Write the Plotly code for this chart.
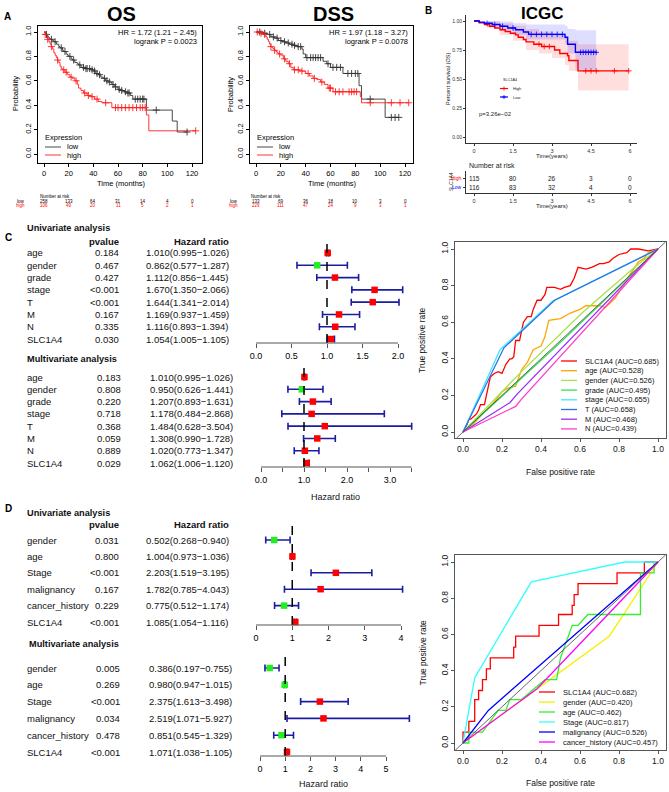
import numpy as np
import plotly.graph_objects as go

W, H = 669, 792
FONT = "Liberation Sans, Arial, Helvetica, sans-serif"

# ======================= DATA =======================
# ---- Panel A: OS (Kaplan-Meier, months) ----
os_low_t = [0, 1, 2, 3, 4, 5, 7, 8, 10, 12, 13, 15, 16, 18, 19, 20, 22, 23, 25, 27, 28, 30, 33, 38, 40, 42,
            44, 46, 48, 50, 52, 55, 57, 60, 62, 65, 67, 70, 72, 83, 104, 108]
os_low_s = [1.0, 0.99, 0.98, 0.96, 0.95, 0.94, 0.93, 0.92, 0.90, 0.88, 0.87, 0.85, 0.84, 0.82, 0.81, 0.80, 0.78,
            0.77, 0.75, 0.74, 0.73, 0.71, 0.70, 0.69, 0.68, 0.66, 0.65, 0.63, 0.62, 0.60, 0.59, 0.57, 0.55, 0.53,
            0.52, 0.51, 0.50, 0.48, 0.45, 0.36, 0.27, 0.18]
os_low_end = 116
os_low_cens = [2, 6, 9, 14, 17, 21, 24, 29, 32, 34, 35, 37, 39, 41, 43, 45, 49, 51, 53, 56, 58, 61, 63, 66, 68,
               69, 74, 76, 78, 80, 81, 91, 116]
os_high_t = [0, 1, 2, 3, 4, 5, 6, 7, 8, 9, 10, 11, 12, 13, 14, 15, 17, 19, 21, 23, 25, 27, 28, 30, 32, 35, 38,
             41, 44, 47, 55, 83, 85]
os_high_s = [1.0, 0.98, 0.96, 0.94, 0.92, 0.90, 0.88, 0.86, 0.83, 0.81, 0.79, 0.77, 0.75, 0.72, 0.70, 0.69, 0.67,
             0.65, 0.63, 0.62, 0.60, 0.57, 0.54, 0.52, 0.50, 0.48, 0.47, 0.45, 0.43, 0.42, 0.38, 0.32, 0.19]
os_high_end = 123
os_high_cens = [1, 3, 6, 11, 16, 18, 22, 26, 33, 36, 39, 43, 50, 58, 60, 63, 66, 69, 72, 75, 78, 80, 82, 123]
os_risk_times = [0, 20, 40, 60, 80, 100, 120]
os_risk_low = [258, 133, 64, 31, 14, 4, 0]
os_risk_high = [106, 49, 20, 11, 5, 2, 1]
os_hr_text = ["HR = 1.72 (1.21 \u2212 2.45)", "logrank P = 0.0023"]

# ---- Panel A: DSS ----
dss_low_t = [0, 6, 9, 12, 15, 18, 21, 24, 27, 30, 33, 37, 38, 40, 54, 57, 60, 70, 83, 85, 104]
dss_low_s = [1.0, 0.99, 0.98, 0.96, 0.95, 0.93, 0.92, 0.91, 0.90, 0.89, 0.88, 0.86, 0.82, 0.79, 0.76, 0.74, 0.71,
             0.66, 0.56, 0.45, 0.30]
dss_low_end = 115
dss_low_cens = [3, 7, 11, 14, 17, 20, 23, 26, 29, 31, 34, 36, 41, 44, 46, 48, 50, 52, 58, 62, 65, 68, 74, 77, 80,
                82, 92, 109, 112, 115]
dss_high_t = [0, 3, 6, 8, 9, 10, 11, 12, 13, 14, 15, 16, 17, 18, 20, 22, 24, 26, 28, 30, 35, 40, 43, 46, 49, 52,
              55, 58, 62, 84, 85]
dss_high_s = [1.0, 0.99, 0.98, 0.96, 0.94, 0.92, 0.90, 0.88, 0.87, 0.86, 0.85, 0.84, 0.83, 0.82, 0.81, 0.78, 0.76,
              0.74, 0.71, 0.69, 0.68, 0.66, 0.64, 0.62, 0.61, 0.59, 0.57, 0.54, 0.51, 0.47, 0.42]
dss_high_end = 123
dss_high_cens = [1, 4, 7, 12, 15, 19, 23, 27, 31, 34, 37, 42, 47, 53, 59, 60, 64, 67, 70, 75, 77, 79, 81, 92, 109,
                 116, 123]
dss_risk_low = [133, 69, 36, 18, 10, 3, 0]
dss_risk_high = [229, 111, 47, 24, 9, 3, 1]
dss_hr_text = ["HR = 1.97 (1.18 \u2212 3.27)", "logrank P = 0.0078"]

# ---- Panel B: ICGC (years) ----
icgc_low_t = [0, 0.2, 0.4, 0.7, 1.0, 1.3, 1.6, 1.9, 2.1, 3.5, 3.6, 3.9]
icgc_low_s = [1.0, 0.99, 0.98, 0.97, 0.955, 0.94, 0.925, 0.905, 0.885, 0.86, 0.80, 0.73]
icgc_low_end = 4.7
icgc_low_cens = [0.5, 0.8, 1.1, 1.5, 2.2, 2.4, 2.6, 2.8, 3.0, 3.2, 3.4, 4.1, 4.2, 4.3, 4.4, 4.5, 4.6, 4.7]
icgc_high_t = [0, 0.2, 0.4, 0.6, 0.8, 1.0, 1.2, 1.4, 1.6, 1.7, 1.9, 2.0, 2.3, 2.6, 3.1, 3.3, 3.6, 3.65, 4.0]
icgc_high_s = [1.0, 0.985, 0.97, 0.955, 0.94, 0.925, 0.91, 0.895, 0.88, 0.86, 0.84, 0.82, 0.80, 0.78, 0.75, 0.72,
               0.70, 0.66, 0.57]
icgc_high_end = 5.95
icgc_high_cens = [2.5, 2.7, 2.9, 4.3, 4.5, 4.7, 5.4, 5.95]
icgc_high_band_t = [0, 0.5, 1.0, 1.5, 2.0, 2.5, 3.0, 3.5, 3.65, 4.0, 5.95]
icgc_high_band_up = [1.0, 0.995, 0.98, 0.96, 0.93, 0.91, 0.88, 0.86, 0.83, 0.80, 0.80]
icgc_high_band_lo = [1.0, 0.94, 0.88, 0.83, 0.75, 0.72, 0.68, 0.62, 0.57, 0.40, 0.40]
icgc_low_band_t = [0, 0.5, 1.0, 1.5, 2.0, 3.5, 3.6, 3.9, 4.7]
icgc_low_band_up = [1.0, 1.0, 0.995, 0.98, 0.97, 0.96, 0.93, 0.92, 0.92]
icgc_low_band_lo = [1.0, 0.95, 0.92, 0.88, 0.84, 0.80, 0.72, 0.58, 0.58]
icgc_risk_times = [0, 1.5, 3, 4.5, 6]
icgc_risk_high = [115, 80, 26, 3, 0]
icgc_risk_low = [116, 83, 32, 4, 0]
icgc_p_text = "p=3.26e\u221202"

# ---- Panel C: forest (TCGA) ----
c_vars = ["age", "gender", "grade", "stage", "T", "M", "N", "SLC1A4"]
c_uni_p = ["0.184", "0.467", "0.427", "<0.001", "<0.001", "0.167", "0.335", "0.030"]
c_uni_hr = [1.010, 0.862, 1.112, 1.670, 1.644, 1.169, 1.116, 1.054]
c_uni_lo = [0.995, 0.577, 0.856, 1.350, 1.341, 0.937, 0.893, 1.005]
c_uni_hi = [1.026, 1.287, 1.445, 2.066, 2.014, 1.459, 1.394, 1.105]
c_multi_p = ["0.183", "0.808", "0.220", "0.718", "0.368", "0.059", "0.889", "0.029"]
c_multi_hr = [1.010, 0.950, 1.207, 1.178, 1.484, 1.308, 1.020, 1.062]
c_multi_lo = [0.995, 0.626, 0.893, 0.484, 0.628, 0.990, 0.773, 1.006]
c_multi_hi = [1.026, 1.441, 1.631, 2.868, 3.504, 1.728, 1.347, 1.120]

# ---- Panel C: ROC ----
c_roc_names = ["SLC1A4", "age", "gender", "grade", "stage", "T", "M", "N"]
c_roc_auc = ["0.685", "0.528", "0.526", "0.495", "0.655", "0.658", "0.468", "0.439"]
c_roc_colors = ["#FF0000", "#FFA500", "#A6E34A", "#33E055", "#40E8F8", "#2F6FE8", "#9B30F0", "#FF3CC8"]
c_roc_fpr = [
    [0, 0.01, 0.02, 0.03, 0.04, 0.06, 0.07, 0.08, 0.09, 0.11, 0.12, 0.13, 0.14, 0.16, 0.18, 0.20, 0.21, 0.22,
     0.24, 0.25, 0.26, 0.27, 0.29, 0.30, 0.31, 0.33, 0.35, 0.36, 0.38, 0.40, 0.42, 0.43, 0.47, 0.50, 0.52, 0.55,
     0.57, 0.59, 0.63, 0.66, 0.70, 0.72, 0.75, 0.77, 0.80, 0.84, 0.86, 0.90, 0.95, 1.0],
    [0, 0.05, 0.10, 0.15, 0.20, 0.23, 0.27, 0.30, 0.33, 0.36, 0.40, 0.42, 0.44, 0.50, 0.55, 0.60, 0.63, 0.67,
     0.70, 0.73, 0.78, 0.85, 0.90, 0.93, 0.95, 1.0],
    [0, 0.30, 0.62, 0.88, 1.0],
    [0, 0.50, 1.0],
    [0, 0.19, 0.46, 1.0],
    [0, 0.21, 0.47, 1.0],
    [0, 0.24, 0.28, 1.0],
    [0, 0.27, 0.30, 1.0],
]
c_roc_tpr = [
    [0, 0.02, 0.04, 0.07, 0.07, 0.09, 0.10, 0.12, 0.15, 0.15, 0.20, 0.25, 0.30, 0.32, 0.33, 0.32, 0.35, 0.37,
     0.40, 0.40, 0.41, 0.50, 0.50, 0.55, 0.60, 0.63, 0.63, 0.67, 0.72, 0.72, 0.75, 0.79, 0.79, 0.78, 0.79, 0.80,
     0.84, 0.90, 0.89, 0.90, 0.92, 0.92, 0.93, 0.95, 0.97, 0.98, 1.0, 1.0, 0.99, 1.0],
    [0, 0.04, 0.10, 0.15, 0.22, 0.24, 0.25, 0.34, 0.38, 0.45, 0.47, 0.52, 0.61, 0.62, 0.65, 0.67, 0.69, 0.69,
     0.69, 0.68, 0.73, 0.85, 0.93, 0.95, 0.98, 1.0],
    [0, 0.33, 0.66, 0.90, 1.0],
    [0, 0.49, 1.0],
    [0, 0.45, 0.715, 1.0],
    [0, 0.46, 0.72, 1.0],
    [0, 0.16, 0.21, 1.0],
    [0, 0.14, 0.18, 1.0],
]

# ---- Panel D: forest ----
d_vars = ["gender", "age", "Stage", "malignancy", "cancer_history", "SLC1A4"]
d_uni_p = ["0.031", "0.800", "<0.001", "0.167", "0.229", "<0.001"]
d_uni_hr = [0.502, 1.004, 2.203, 1.782, 0.775, 1.085]
d_uni_lo = [0.268, 0.973, 1.519, 0.785, 0.512, 1.054]
d_uni_hi = [0.940, 1.036, 3.195, 4.043, 1.174, 1.116]
d_multi_p = ["0.005", "0.269", "<0.001", "0.034", "0.478", "<0.001"]
d_multi_hr = [0.386, 0.980, 2.375, 2.519, 0.851, 1.071]
d_multi_lo = [0.197, 0.947, 1.613, 1.071, 0.545, 1.038]
d_multi_hi = [0.755, 1.015, 3.498, 5.927, 1.329, 1.105]

# ---- Panel D: ROC ----
d_roc_names = ["SLC1A4", "gender", "age", "Stage", "malignancy", "cancer_history"]
d_roc_auc = ["0.682", "0.420", "0.462", "0.817", "0.526", "0.457"]
d_roc_colors = ["#FF0000", "#F2F200", "#33EE33", "#33FFFF", "#0000FF", "#FF00FF"]
d_roc_fpr = [
    [0, 0, 0.03, 0.03, 0.06, 0.06, 0.08, 0.08, 0.10, 0.10, 0.12, 0.12, 0.14, 0.14, 0.18, 0.26, 0.26, 0.27, 0.27,
     0.39, 0.39, 0.49, 0.49, 0.56, 0.56, 0.57, 0.57, 0.59, 0.59, 0.79, 0.79, 0.93, 0.93, 1.0],
    [0, 0.38, 0.75, 1.0],
    [0, 0.03, 0.03, 0.10, 0.18, 0.22, 0.24, 0.30, 0.42, 0.48, 0.50, 0.56, 0.59, 0.64, 0.91, 0.91, 0.98, 0.98],
    [0, 0.06, 0.35, 0.83, 1.0],
    [0, 0.13, 1.0],
    [0, 0.38, 1.0],
]
d_roc_tpr = [
    [0, 0.06, 0.06, 0.12, 0.12, 0.24, 0.24, 0.29, 0.29, 0.35, 0.35, 0.41, 0.41, 0.47, 0.47, 0.47, 0.53, 0.53, 0.59,
     0.59, 0.65, 0.65, 0.71, 0.71, 0.76, 0.76, 0.82, 0.82, 0.88, 0.88, 0.94, 0.94, 1.0, 1.0],
    [0, 0.30, 0.59, 1.0],
    [0, 0, 0.06, 0.06, 0.18, 0.18, 0.24, 0.24, 0.35, 0.35, 0.47, 0.65, 0.65, 0.71, 0.71, 0.94, 0.94, 1.0],
    [0, 0.36, 0.89, 1.0, 1.0],
    [0, 0.18, 1.0],
    [0, 0.30, 1.0],
]

# ======================= LAYOUT HELPERS =======================
def PX(x):
    return x / W


def PY(y):
    return 1 - y / H


def lin(p, v0, p0, v1, p1):
    return v0 + (p - p0) * (v1 - v0) / (p1 - p0)


def rng(lo_px, hi_px, v0, p0, v1, p1):
    return [lin(lo_px, v0, p0, v1, p1), lin(hi_px, v0, p0, v1, p1)]


def names(n):
    s = "" if n == 1 else str(n)
    return "xaxis" + s, "yaxis" + s, "x" + s, "y" + s


BASE = dict(showgrid=False, zeroline=False, ticks="outside", ticklen=3, tickwidth=1, tickcolor="black",
            linecolor="black", linewidth=1, tickfont=dict(family=FONT, size=7.5, color="black"))

layout = {}
annotations = []
shapes = []
fig = go.Figure()


def set_axes(n, xd, yd, xr, yr, xkw=None, ykw=None):
    xa, ya, xr_, yr_ = names(n)
    xk = dict(BASE, domain=[PX(xd[0]), PX(xd[1])], range=xr, anchor=yr_)
    yk = dict(BASE, domain=[PY(yd[1]), PY(yd[0])], range=yr, anchor=xr_)
    xk.update(xkw or {})
    yk.update(ykw or {})
    layout[xa] = xk
    layout[ya] = yk
    return xr_, yr_


def text(x, y, s, size=9, color="black", bold=False, xanchor="center", yanchor="middle",
         xref="paper", yref="paper", angle=0):
    xx = PX(x) if xref == "paper" else x
    yy = PY(y) if yref == "paper" else y
    if bold:
        s = "<b>" + s + "</b>"
    annotations.append(dict(x=xx, y=yy, xref=xref, yref=yref, text=s, showarrow=False, xanchor=xanchor,
                            yanchor=yanchor, textangle=angle,
                            font=dict(family=FONT, size=size, color=color)))


def pline(x0, y0, x1, y1, color="black", width=1, dash="solid"):
    shapes.append(dict(type="line", xref="paper", yref="paper", x0=PX(x0), y0=PY(y0), x1=PX(x1), y1=PY(y1),
                       line=dict(color=color, width=width, dash=dash)))


def step_trace(t, s, end, color, xr, yr, width=1.0):
    fig.add_trace(go.Scatter(x=list(t) + [end], y=list(s) + [s[-1]], mode="lines", line_shape="hv",
                             line=dict(color=color, width=width), xaxis=xr, yaxis=yr, hoverinfo="skip"))


def censor_trace(t, s, cens, color, xr, yr, size=5, width=0.9):
    tt = np.array(t)
    ss = np.array(s)
    idx = np.searchsorted(tt, np.array(cens), side="right") - 1
    fig.add_trace(go.Scatter(x=cens, y=ss[idx], mode="markers",
                             marker=dict(symbol="cross-thin", size=size, line=dict(color=color, width=width)),
                             xaxis=xr, yaxis=yr, hoverinfo="skip"))


# ======================= PANEL A =======================
def km_panel(n, xd, xt0, xt120, low, high, risk_low, risk_high, hr_text, title, title_x, ylab_x,
             risk_lab_right, nar_x, leg_x):
    (lt, ls, le, lc), (ht, hs, he, hc) = low, high
    xr, yr = set_axes(n, xd, (26, 163), rng(xd[0], xd[1], 0, xt0, 120, xt120), rng(163, 26, 0, 154, 1, 32),
                      dict(showline=True, mirror=True, tickvals=os_risk_times),
                      dict(showline=True, mirror=True, tickvals=[0, 0.2, 0.4, 0.6, 0.8, 1.0],
                           ticktext=["0.0", "0.2", "0.4", "0.6", "0.8", "1.0"], tickangle=-90))
    step_trace(lt, ls, le, "#333333", xr, yr, 0.9)
    step_trace(ht, hs, he, "#FF2020", xr, yr, 0.9)
    censor_trace(lt, ls, lc, "#333333", xr, yr)
    censor_trace(ht, hs, hc, "#FF2020", xr, yr)
    text(title_x, 14, title, size=20, bold=True)
    text(xd[1] - 3, 33, hr_text[0], size=7.5, xanchor="right")
    text(xd[1] - 3, 42, hr_text[1], size=7.5, xanchor="right")
    text(ylab_x, 94, "Probability", size=7.5, angle=-90)
    text((xd[0] + xd[1]) / 2 + 1, 183, "Time (months)", size=7.5)
    # legend
    text(leg_x - 2, 137, "Expression", size=7.5, xanchor="left")
    for i, (lab, col) in enumerate([("low", "#333333"), ("high", "#FF2020")]):
        yy = 147 + 8 * i
        pline(leg_x, yy, leg_x + 16, yy, col, 0.9)
        text(leg_x + 20, yy, lab, size=7.5, xanchor="left")
    # number at risk
    text(nar_x, 197, "Number at risk", size=4.5, xanchor="left")
    for i, (lab, vals, col) in enumerate([("low", risk_low, "black"), ("high", risk_high, "#FF0000")]):
        yy = 201 + 4.5 * i
        text(risk_lab_right, yy, lab, size=4.5, color=col, xanchor="right")
        for tv, v in zip(os_risk_times, vals):
            text(tv, yy, str(v), size=4.5, color=col, xref=xr)


km_panel(1, (38, 202), 44, 192,
         (os_low_t, os_low_s, os_low_end, os_low_cens), (os_high_t, os_high_s, os_high_end, os_high_cens),
         os_risk_low, os_risk_high, os_hr_text, "OS", 121, 15, 27, 38, 45)
km_panel(2, (250, 413), 256, 405,
         (dss_low_t, dss_low_s, dss_low_end, dss_low_cens), (dss_high_t, dss_high_s, dss_high_end, dss_high_cens),
         dss_risk_low, dss_risk_high, dss_hr_text, "DSS", 333, 230, 240, 249, 257)
text(7, 16, "A", size=10, bold=True)

# ======================= PANEL B =======================
ICGC_X = (466, 637)
xr3, yr3 = set_axes(3, ICGC_X, (15, 143), rng(ICGC_X[0], ICGC_X[1], 0, 474, 6, 630), rng(143, 15, 0, 137, 1, 21),
                    dict(showline=True, tickvals=icgc_risk_times, ticktext=["0", "1.5", "3", "4.5", "6"],
                         ticklen=2, tickcolor="#333", linecolor="#333",
                         tickfont=dict(family=FONT, size=5.5, color="#333")),
                    dict(showline=True, tickvals=[0, 0.25, 0.5, 0.75, 1.0],
                         ticktext=["0.00", "0.25", "0.50", "0.75", "1.00"], ticklen=2, tickcolor="#333",
                         linecolor="#333", tickfont=dict(family=FONT, size=5, color="#333")))
for bt, bu, bl, fc in [(icgc_high_band_t, icgc_high_band_up, icgc_high_band_lo, "rgba(255,0,0,0.13)"),
                       (icgc_low_band_t, icgc_low_band_up, icgc_low_band_lo, "rgba(0,0,255,0.13)")]:
    fig.add_trace(go.Scatter(x=bt, y=bl, mode="lines", line_shape="hv", line=dict(width=0), xaxis=xr3, yaxis=yr3,
                             hoverinfo="skip"))
    fig.add_trace(go.Scatter(x=bt, y=bu, mode="lines", line_shape="hv", line=dict(width=0), fill="tonexty",
                             fillcolor=fc, xaxis=xr3, yaxis=yr3, hoverinfo="skip"))
step_trace(icgc_high_t, icgc_high_s, icgc_high_end, "#FF0000", xr3, yr3, 1.4)
step_trace(icgc_low_t, icgc_low_s, icgc_low_end, "#0000FF", xr3, yr3, 1.4)
censor_trace(icgc_high_t, icgc_high_s, icgc_high_cens, "#FF0000", xr3, yr3, 4, 0.8)
censor_trace(icgc_low_t, icgc_low_s, icgc_low_cens, "#0000FF", xr3, yr3, 4, 0.8)
text(542, 14, "ICGC", size=17, bold=True)
text(428, 11, "B", size=10, bold=True)
text(448, 79, "Percent survival (OS)", size=5.5, angle=-90, color="#222")
text(552, 155.5, "Time(years)", size=6, color="#222")
text(477, 114, icgc_p_text, size=6, xanchor="left", color="#222")
text(501, 80, "SLC1A4", size=3.8, xanchor="left", color="#222")
for i, (lab, col) in enumerate([("High", "#FF0000"), ("Low", "#0000FF")]):
    yy = 88.5 + 8.5 * i
    pline(500, yy, 508, yy, col, 1.2)
    pline(504, yy - 2, 504, yy + 2, col, 0.8)
    pline(502, yy, 506, yy, col, 0.8)
    text(511, yy, lab, size=4, xanchor="left", color="#222")

# risk table for ICGC
xr4, yr4 = set_axes(4, ICGC_X, (171, 193), rng(ICGC_X[0], ICGC_X[1], 0, 474, 6, 630),
                    rng(193, 171, 0, 178, 1, 187),
                    dict(showline=True, tickvals=icgc_risk_times, ticktext=["0", "1.5", "3", "4.5", "6"],
                         ticklen=2, tickcolor="#333", linecolor="#333",
                         tickfont=dict(family=FONT, size=5.5, color="#333")),
                    dict(showline=True, tickvals=[0, 1], ticktext=["", ""], ticklen=2, tickcolor="#333",
                         linecolor="#333"))
text(467, 166, "Number at risk", size=7, xanchor="left", color="#222")
text(451, 182, "SLC1A4", size=5, angle=-90, color="#222")
text(552, 206, "Time(years)", size=6, color="#222")
for i, (lab, vals, col) in enumerate([("High", icgc_risk_high, "#FF0000"), ("Low", icgc_risk_low, "#0000FF")]):
    text(463.5, i, lab, size=5, color=col, xanchor="right", yref=yr4)
    for tv, v in zip(icgc_risk_times, vals):
        text(tv, i, str(v), size=6.5, color="#222", xref=xr4, yref=yr4)

# ======================= FOREST PLOTS =======================
def forest(n, vars_, pv, hr, lo, hi, ydom, row0, spacing, xanch, tickvals, ticktext, p_right, hr_right):
    xd = (240, 415)
    xr, yr = set_axes(n, xd, ydom, rng(xd[0], xd[1], *xanch), rng(ydom[1], ydom[0], 0, row0, 1, row0 + spacing),
                      dict(showline=False, tickvals=tickvals, ticktext=ticktext, ticklen=4, tickcolor="#555",
                           tickfont=dict(family=FONT, size=9, color="black")),
                      dict(visible=False))
    rows = list(range(len(vars_)))
    hr_a, lo_a, hi_a = np.array(hr), np.array(lo), np.array(hi)
    cols = ["#22EE22" if h < 1 else "#FF0000" for h in hr]
    shapes.append(dict(type="line", xref=xr, yref=yr + " domain", x0=1, x1=1, y0=0, y1=1,
                       line=dict(color="black", width=1.5, dash="dash")))
    shapes.append(dict(type="line", xref=xr, yref=yr + " domain", x0=tickvals[0], x1=tickvals[-1], y0=0, y1=0,
                       line=dict(color="#555", width=1)))
    fig.add_trace(go.Scatter(x=hr, y=rows, mode="markers", xaxis=xr, yaxis=yr, cliponaxis=False,
                             marker=dict(symbol="square", size=6.5, color=cols, line=dict(width=0)),
                             error_x=dict(type="data", symmetric=False, array=hi_a - hr_a,
                                          arrayminus=hr_a - lo_a, color="#1C1CA0", thickness=1.6, width=3.5),
                             hoverinfo="skip"))
    for i, v in enumerate(vars_):
        text(25, i, v, size=9.5, xanchor="left", yref=yr, color="#111")
        text(p_right, i, pv[i], size=9.5, xanchor="right", yref=yr, color="#111")
        text(hr_right, i, "%.3f(%.3f\u2212%.3f)" % (hr[i], lo[i], hi[i]), size=9.5, xanchor="right", yref=yr,
             color="#111")


forest(5, c_vars, c_uni_p, c_uni_hr, c_uni_lo, c_uni_hi, (240, 343), 253, 12.29, (0, 256, 1, 327),
       [0, 0.5, 1.0, 1.5, 2.0], ["0.0", "0.5", "1.0", "1.5", "2.0"], 121, 231)
forest(6, c_vars, c_multi_p, c_multi_hr, c_multi_lo, c_multi_hi, (365, 467), 377, 12.29, (0, 261, 1, 304),
       [0, 0.5, 1.0, 1.5, 2.0, 2.5, 3.0, 3.5], ["0.0", "", "1.0", "", "2.0", "", "3.0", ""], 123, 235)
forest(8, d_vars, d_uni_p, d_uni_hr, d_uni_lo, d_uni_hi, (525, 625), 540, 16.4, (0, 256, 1, 292.25),
       [0, 1, 2, 3, 4], ["0", "1", "2", "3", "4"], 121, 231)
forest(9, d_vars, d_multi_p, d_multi_hr, d_multi_lo, d_multi_hi, (651, 756), 668, 16.8, (0, 260, 1, 285.2),
       [0, 1, 2, 3, 4, 5], ["0", "1", "2", "3", "4", "5"], 122, 234)

text(8, 237, "C", size=10, bold=True)
text(25, 228, "Univariate analysis", size=9.2, bold=True, xanchor="left", color="#111")
text(121, 241, "pvalue", size=9.5, bold=True, xanchor="right", color="#111")
text(231, 241, "Hazard ratio", size=9.5, bold=True, xanchor="right", color="#111")
text(25, 359, "Multivariate analysis", size=9.2, bold=True, xanchor="left", color="#111")
text(335, 497, "Hazard ratio", size=9, color="#111")

text(8, 508, "D", size=10, bold=True)
text(25, 513, "Univariate analysis", size=9.2, bold=True, xanchor="left", color="#111")
text(121, 524, "pvalue", size=9.5, bold=True, xanchor="right", color="#111")
text(231, 524, "Hazard ratio", size=9.5, bold=True, xanchor="right", color="#111")
text(27, 644, "Multivariate analysis", size=9.2, bold=True, xanchor="left", color="#111")
text(323, 784, "Hazard ratio", size=9, color="#111")

# ======================= ROC PANELS =======================
def roc(n, ydom, y0px, y1px, names_, aucs, colors, fprs, tprs, leg_x0, leg_y0, leg_dy, xlab_y):
    xd = (455, 666)
    xr_ = rng(xd[0], xd[1], 0, 463, 1, 658)
    yr_ = rng(ydom[1], ydom[0], 0, y0px, 1, y1px)
    tv = [0, 0.2, 0.4, 0.6, 0.8, 1.0]
    tt = ["0.0", "0.2", "0.4", "0.6", "0.8", "1.0"]
    xr, yr = set_axes(n, xd, ydom, xr_, yr_,
                      dict(showline=True, mirror=True, tickvals=tv, ticktext=tt, linecolor="#555",
                           tickcolor="#555", tickfont=dict(family=FONT, size=8.5, color="#111")),
                      dict(showline=True, mirror=True, tickvals=tv, ticktext=tt, tickangle=-90, linecolor="#555",
                           tickcolor="#555", tickfont=dict(family=FONT, size=8.5, color="#111")))
    lo = max(xr_[0], yr_[0])
    hi = min(xr_[1], yr_[1])
    shapes.append(dict(type="line", xref=xr, yref=yr, x0=lo, y0=lo, x1=hi, y1=hi,
                       line=dict(color="#444", width=0.8)))
    for f, t, c in zip(fprs, tprs, colors):
        fig.add_trace(go.Scatter(x=f, y=t, mode="lines", line=dict(color=c, width=1.3), xaxis=xr, yaxis=yr,
                                 hoverinfo="skip"))
    for i, (nm, a, c) in enumerate(zip(names_, aucs, colors)):
        yy = leg_y0 + leg_dy * i
        pline(leg_x0, yy, leg_x0 + 16, yy, c, 1.3)
        text(leg_x0 + 22, yy, "%s (AUC=%s)" % (nm, a), size=7.5, xanchor="left", color="#111")
    text(422, (ydom[0] + ydom[1]) / 2, "True positive rate", size=8.5, angle=-90, color="#111")
    text(560, xlab_y, "False positive rate", size=8.5, color="#111")


roc(7, (242, 438), 432, 249, c_roc_names, c_roc_auc, c_roc_colors, c_roc_fpr, c_roc_tpr, 561, 361, 9.7, 472)
roc(10, (555, 750), 743, 562, d_roc_names, d_roc_auc, d_roc_colors, d_roc_fpr, d_roc_tpr, 539, 692, 10, 783)

layout.update(dict(width=W, height=H, margin=dict(l=0, r=0, t=0, b=0), plot_bgcolor="white",
                   paper_bgcolor="white", showlegend=False, annotations=annotations, shapes=shapes,
                   font=dict(family=FONT), hovermode=False))
fig.update_layout(**layout)
fig.write_html("out.html", config={"displayModeBar": False, "staticPlot": True},
               post_script="document.body.style.margin='0';document.body.style.padding='0';"
                           "document.documentElement.style.overflow='hidden';")
